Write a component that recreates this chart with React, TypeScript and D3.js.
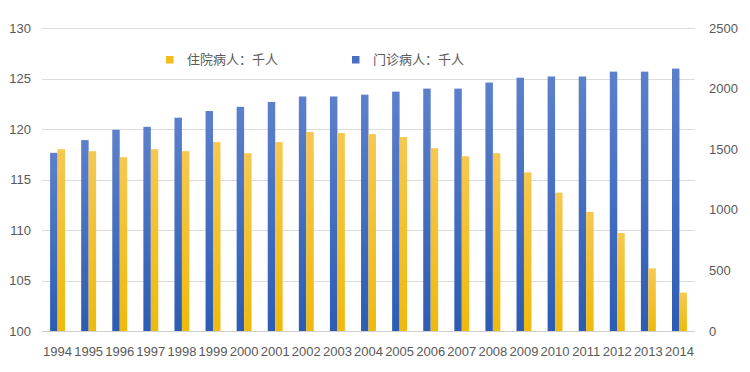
import * as d3 from 'd3'

const years = [
  '1994', '1995', '1996', '1997', '1998', '1999', '2000', '2001', '2002', '2003', '2004',
  '2005', '2006', '2007', '2008', '2009', '2010', '2011', '2012', '2013', '2014',
]
// 住院病人（千人）— left axis
const inpatients = [
  118.0, 117.8, 117.2, 118.0, 117.8, 118.7, 117.6, 118.7, 119.7, 119.6, 119.5,
  119.2, 118.1, 117.3, 117.6, 115.7, 113.7, 111.8, 109.7, 106.2, 103.8,
]
// 门诊病人（千人）— right axis
const outpatients = [
  1470, 1575, 1660, 1685, 1760, 1815, 1850, 1890, 1935, 1935, 1950,
  1975, 2000, 2000, 2050, 2090, 2100, 2100, 2140, 2140, 2165,
]
const leftTicks = [100, 105, 110, 115, 120, 125, 130]
const rightTicks = [0, 500, 1000, 1500, 2000, 2500]
const legendItems = [
  { label: '住院病人：千人', color: '#f2bd1d', x: 166 },
  { label: '门诊病人：千人', color: '#4a70c2', x: 352 },
]

const W = 750
const H = 372
const plot = { left: 42, right: 695, top: 28, bottom: 331 }
const FONT = '"Liberation Sans", "Noto Sans CJK SC", sans-serif'
const TEXT = '#595959'

export default function App() {
  const x = d3
    .scaleBand<string>()
    .domain(years)
    .range([plot.left, plot.right])
    .paddingInner(0.52)
    .paddingOuter(0.26)
  const sub = d3.scaleBand<string>().domain(['out', 'in']).range([0, x.bandwidth()])
  const yLeft = d3.scaleLinear().domain([100, 130]).range([plot.bottom, plot.top])
  const yRight = d3.scaleLinear().domain([0, 2500]).range([plot.bottom, plot.top])

  return (
    <svg width={W} height={H} style={{ position: 'absolute', left: 0, top: 0, background: '#fff' }}>
      <defs>
        <linearGradient id="gBlue" x1="0" y1="0" x2="0" y2="1">
          <stop offset="0" stopColor="#5c80cc" />
          <stop offset="1" stopColor="#2c5cb3" />
        </linearGradient>
        <linearGradient id="gYellow" x1="0" y1="0" x2="0" y2="1">
          <stop offset="0" stopColor="#f6c850" />
          <stop offset="1" stopColor="#efba0c" />
        </linearGradient>
      </defs>

      {/* gridlines */}
      {leftTicks.map((t) => (
        <line
          key={t}
          x1={plot.left}
          x2={plot.right}
          y1={Math.round(yLeft(t)) + 0.5}
          y2={Math.round(yLeft(t)) + 0.5}
          stroke={t === 100 ? '#cfcfcf' : '#dcdcdc'}
          strokeWidth={1}
        />
      ))}

      {/* left axis labels */}
      {leftTicks.map((t) => (
        <text
          key={t}
          x={31}
          y={yLeft(t)}
          dy="0.35em"
          textAnchor="end"
          fontFamily={FONT}
          fontSize={13}
          fill={TEXT}
        >
          {t}
        </text>
      ))}

      {/* right axis labels */}
      {rightTicks.map((t) => (
        <text
          key={t}
          x={709}
          y={yRight(t)}
          dy="0.35em"
          textAnchor="start"
          fontFamily={FONT}
          fontSize={13}
          fill={TEXT}
        >
          {t}
        </text>
      ))}

      {/* bars */}
      {years.map((yr, i) => {
        const x0 = x(yr) ?? 0
        return (
          <g key={yr}>
            <rect
              x={x0 + (sub('out') ?? 0)}
              y={yRight(outpatients[i])}
              width={sub.bandwidth()}
              height={plot.bottom - yRight(outpatients[i])}
              fill="url(#gBlue)"
            />
            <rect
              x={x0 + (sub('in') ?? 0)}
              y={yLeft(inpatients[i])}
              width={sub.bandwidth()}
              height={plot.bottom - yLeft(inpatients[i])}
              fill="url(#gYellow)"
            />
            <text
              x={x0 + x.bandwidth() / 2}
              y={351}
              dy="0.35em"
              textAnchor="middle"
              fontFamily={FONT}
              fontSize={13}
              fill={TEXT}
            >
              {yr}
            </text>
          </g>
        )
      })}

      {/* legend */}
      {legendItems.map((d) => (
        <g key={d.label}>
          <rect x={d.x} y={56} width={7.5} height={7.5} fill={d.color} />
          <text
            x={d.x + 21}
            y={59.5}
            dy="0.35em"
            fontFamily={FONT}
            fontSize={13}
            fill={TEXT}
          >
            {d.label}
          </text>
        </g>
      ))}
    </svg>
  )
}
